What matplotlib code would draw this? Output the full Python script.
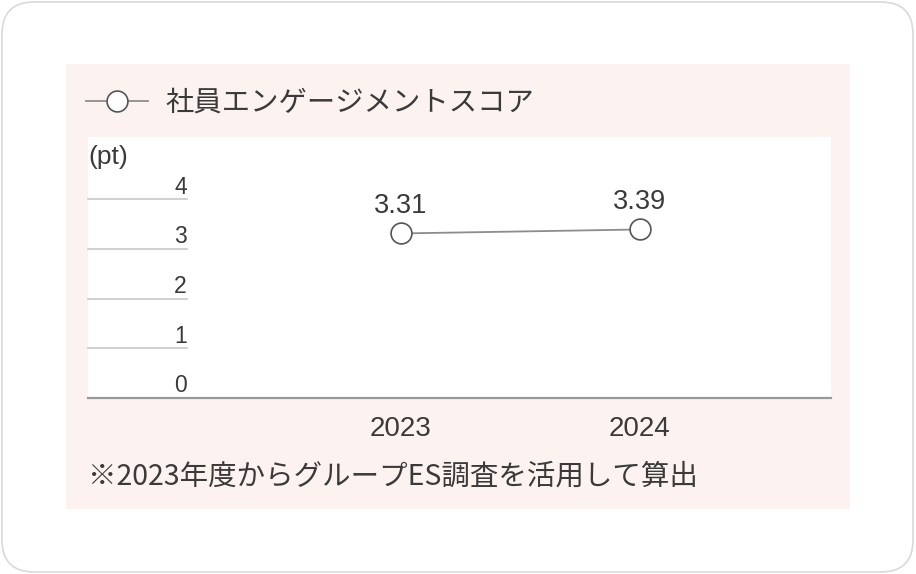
import matplotlib.pyplot as plt
from matplotlib.patches import FancyBboxPatch, Rectangle
from matplotlib.transforms import blended_transform_factory

# data
years = ["2023", "2024"]
scores = [3.31, 3.39]
y_ticks = [0, 1, 2, 3, 4]
series_name = "社員エンゲージメントスコア"
unit_label = "(pt)"
footnote = "※2023年度からグループES調査を活用して算出"

JP = ["Noto Sans CJK JP", "DejaVu Sans"]
LAT = ["Liberation Sans", "DejaVu Sans"]
TXT = "#3a3a3a"
PINK = "#fcf3f1"

W, H = 916, 574
fig = plt.figure(figsize=(W / 100, H / 100), dpi=100)
fig.patch.set_facecolor("white")


def fx(px):
    return px / W


def fy(py):
    return 1 - py / H


# outer rounded card
card = FancyBboxPatch((fx(2), fy(572)), fx(911), 570 / H,
                      boxstyle="round,pad=0,rounding_size=0.035",
                      transform=fig.transFigure, facecolor="white",
                      edgecolor="#d9d9d9", linewidth=1.2,
                      mutation_aspect=W / H, zorder=-3)
fig.patches.append(card)

# pink panel
panel = Rectangle((fx(66), fy(509)), fx(850 - 66), (509 - 64) / H,
                  transform=fig.transFigure, facecolor=PINK,
                  edgecolor="none", zorder=-2)
fig.patches.append(panel)

# plot area
ax = fig.add_axes([fx(88), fy(398), fx(831 - 88), (398 - 137) / H])
ax.set_facecolor("white")
x = list(range(len(years)))
ax.plot(x, scores, color="#8c8c8c", linewidth=1.3, marker="o",
        markersize=15, markerfacecolor="white", markeredgecolor="#555555",
        markeredgewidth=1.2, label=series_name, zorder=3)

ax.set_xlim(-1.31, 1.80)
ax.set_ylim(0, 5.25)

for s in ["top", "right", "left"]:
    ax.spines[s].set_visible(False)
ax.spines["bottom"].set_color("#999999")
ax.spines["bottom"].set_linewidth(1.6)

ax.set_xticks(x)
ax.set_xticklabels(years, fontfamily=LAT, fontsize=20, color=TXT)
ax.tick_params(axis="x", length=0, pad=13)
ax.set_yticks([])

# short gridlines with labels sitting on top of them
trans = blended_transform_factory(ax.transAxes, ax.transData)
for v in y_ticks:
    if v > 0:
        ax.plot([0, 0.133], [v, v], transform=trans, color="#c8c8c8",
                linewidth=1.2, clip_on=False)
    ax.annotate(str(v), xy=(0.133, v), xycoords=trans, xytext=(0, 4),
                textcoords="offset points", ha="right", va="baseline",
                fontfamily=LAT, fontsize=16.5, color=TXT)

ax.text(0.0, 4 + 42 / 49.75, unit_label, transform=trans, ha="left",
        va="center", fontfamily=LAT, fontsize=19, color=TXT)

# value labels
for xi, v in zip(x, scores):
    ax.annotate(f"{v:.2f}", xy=(xi, v), xytext=(0, 15),
                textcoords="offset points", ha="center", va="baseline",
                fontfamily=LAT, fontsize=19.5, color=TXT)

# legend
ax.legend(loc="center left", bbox_to_anchor=(fx(86), fy(103)),
          bbox_transform=fig.transFigure, frameon=False, borderpad=0,
          borderaxespad=0, handlelength=2.2, handletextpad=0.6,
          prop={"family": JP, "size": 20.4}, labelcolor=TXT)

fig.text(fx(88), fy(477), footnote, ha="left", va="center",
         fontfamily=JP, fontsize=20.5, color=TXT)

fig.savefig("out.png", dpi=100)
